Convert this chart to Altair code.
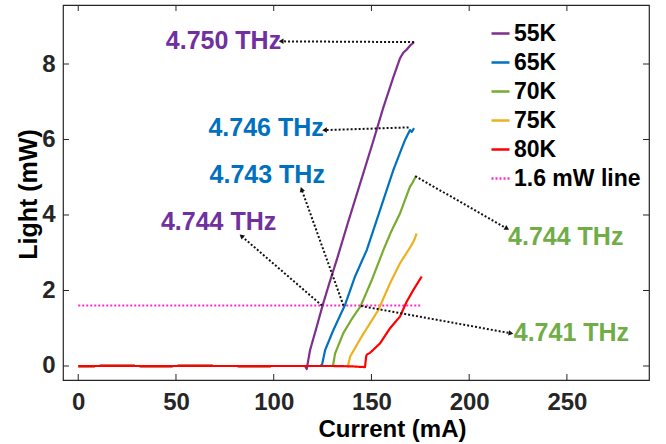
import math
import altair as alt
import pandas as pd

# ---------------- data ----------------
series_names = ["55K", "65K", "70K", "75K", "80K"]
line_colors = ["#7E2F8E", "#0072BD", "#77AC30", "#EDB120", "#FF0000"]
threshold_name = "1.6 mW line"
threshold_color = "#FF2BC8"

flat_I = [0, 10, 20, 30, 40, 50, 60, 70, 80, 90, 100, 110]
flat_L = [-0.005, 0.0, 0.005, 0.0, -0.005, 0.0, 0.005, 0.0, 0.0, -0.005, 0.0, 0.0]

current_55K = flat_I + [116.0, 116.9, 117.5, 118.6, 122.0, 125.1, 128.8, 132.3, 138.0, 142.5,
                        147.0, 151.0, 156.1, 161.2, 164.6, 166.3, 168.0, 170.0, 171.8]
light_55K = flat_L + [0.0, -0.08, 0.1, 0.42, 1.04, 1.62, 2.25, 2.82, 3.8, 4.55,
                      5.3, 5.97, 6.85, 7.65, 8.15, 8.3, 8.38, 8.5, 8.58]

current_65K = flat_I + [120.0, 124.0, 124.8, 126.3, 130.5, 136.5, 141.6, 147.6, 154.4, 161.2,
                        165.0, 167.2, 169.7, 170.6, 171.8]
light_65K = flat_L + [0.0, 0.0, 0.05, 0.42, 0.95, 1.62, 2.37, 3.07, 4.13, 5.19,
                      5.7, 5.99, 6.25, 6.2, 6.30]

current_70K = flat_I + [120.0, 130.3, 131.4, 135.6, 140.0, 144.5, 150.2, 156.1, 160.0, 164.6,
                        169.7, 171.0, 172.8]
light_70K = flat_L + [0.0, 0.0, 0.33, 0.87, 1.25, 1.59, 2.28, 3.07, 3.55, 4.04,
                      4.75, 4.85, 5.03]

current_75K = flat_I + [120.0, 130.0, 138.0, 139.1, 145.0, 153.5, 159.5, 164.6, 168.9, 170.5,
                        172.0, 173.1]
light_75K = flat_L + [0.0, 0.0, 0.0, 0.25, 0.78, 1.48, 2.19, 2.72, 3.07, 3.2,
                      3.35, 3.51]

current_80K = flat_I + [120.0, 130.0, 140.0, 146.7, 147.3, 147.6, 149.3, 154.4, 159.5, 164.6,
                        168.0, 171.4, 175.7]
light_80K = flat_L + [0.0, 0.0, -0.01, -0.03, 0.25, 0.3, 0.35, 0.6, 1.0, 1.31,
                      1.70, 2.01, 2.37]

threshold_I = [0, 175.2]
threshold_L = [1.6, 1.6]

# annotations: label text, colour, label position, arrow start, arrow tip
ann_text = ["4.750 THz", "4.746 THz", "4.743 THz", "4.744 THz", "4.744 THz", "4.741 THz"]
ann_color = ["#7030A0", "#0070C0", "#0070C0", "#7030A0", "#70AD47", "#70AD47"]
ann_I = [74.3, 96.1, 96.7, 71.8, 249.4, 252.3]
ann_L = [8.62, 6.30, 5.06, 3.82, 3.43, 0.87]
arrow_from_I = [171.8, 169.0, 135.7, 124.7, 172.4, 144.6]
arrow_from_L = [8.58, 6.32, 1.60, 1.60, 5.03, 1.59]
arrow_to_I = [104.2, 126.4, 114.4, 83.8, 219.0, 221.0]
arrow_to_L = [8.60, 6.25, 4.66, 3.43, 3.65, 0.87]

x_ticks = [0, 50, 100, 150, 200, 250]
y_ticks = [0, 2, 4, 6, 8]

# ---------------- geometry / style ----------------
W, H = 586, 375
x_dom = [-7.8, 292.0]
y_dom = [-0.371, 9.563]
FONT = "Liberation Sans"

curr = [current_55K, current_65K, current_70K, current_75K, current_80K]
lite = [light_55K, light_65K, light_70K, light_75K, light_80K]
rows = []
for name, ii, ll in zip(series_names, curr, lite):
    for k, (a, b) in enumerate(zip(ii, ll)):
        rows.append({"series": name, "I": a, "L": b, "k": k})
lines_df = pd.DataFrame(rows)
thr_df = pd.DataFrame({"series": threshold_name, "I": threshold_I, "L": threshold_L})

sx = W / (x_dom[1] - x_dom[0])
sy = H / (y_dom[1] - y_dom[0])
angles = []
for a0, b0, a1, b1 in zip(arrow_from_I, arrow_from_L, arrow_to_I, arrow_to_L):
    dxp = (a1 - a0) * sx
    dyp = -(b1 - b0) * sy
    angles.append(math.degrees(math.atan2(dxp, -dyp)) % 360)

ann_df = pd.DataFrame({"text": ann_text, "color": ann_color, "I": ann_I, "L": ann_L})
arrow_df = pd.DataFrame({"I": arrow_from_I, "L": arrow_from_L,
                         "I2": arrow_to_I, "L2": arrow_to_L})
head_df = pd.DataFrame({"I": arrow_to_I, "L": arrow_to_L, "angle": angles})
xt_df = pd.DataFrame({"I": x_ticks})
yt_df = pd.DataFrame({"L": y_ticks})

legend_domain = series_names + [threshold_name]
legend_range = line_colors + [threshold_color]
dash_range = [[1, 0]] * 5 + [[2, 2]]

xs = alt.Scale(domain=x_dom, nice=False, zero=False)
ys = alt.Scale(domain=y_dom, nice=False, zero=False)

x_axis = alt.Axis(values=x_ticks, ticks=False, domain=False, grid=False,
                  labelFont=FONT, labelFontSize=24, labelFontWeight="bold",
                  labelColor="#262626", labelPadding=10, labelFlush=False,
                  title="Current (mA)", titleFont=FONT, titleFontSize=24,
                  titleFontWeight="bold", titleColor="#000000",
                  titleX=329, titleY=56, titleAlign="center", titleBaseline="alphabetic")
y_axis = alt.Axis(values=y_ticks, ticks=False, domain=False, grid=False,
                  labelFont=FONT, labelFontSize=24, labelFontWeight="bold",
                  labelColor="#262626", labelPadding=8, labelFlush=False,
                  title="Light (mW)", titleFont=FONT, titleFontSize=25,
                  titleFontWeight="bold", titleColor="#000000",
                  titleX=-27, titleY=189, titleAngle=270, titleAlign="center",
                  titleBaseline="alphabetic")

X = alt.X("I:Q", scale=xs, axis=x_axis, title="Current (mA)")
Y = alt.Y("L:Q", scale=ys, axis=y_axis, title="Light (mW)")

leg = alt.Legend(orient="none", legendX=426, legendY=17, title=None,
                 symbolType="stroke", symbolSize=324, symbolStrokeWidth=2.5,
                 labelFont=FONT, labelFontSize=23, labelFontWeight="bold",
                 labelColor="#000000", rowPadding=5, padding=0, labelOffset=2)
color_enc = alt.Color("series:N", scale=alt.Scale(domain=legend_domain, range=legend_range),
                      legend=leg)
dash_enc = alt.StrokeDash("series:N", scale=alt.Scale(domain=legend_domain, range=dash_range),
                          legend=leg)

curves = alt.Chart(lines_df).mark_line(strokeWidth=2.2, strokeJoin="round").encode(
    x=X, y=Y, color=color_enc, strokeDash=dash_enc, order="k:Q")

thr = alt.Chart(thr_df).mark_line(strokeWidth=2).encode(
    x=X, y=Y, color=color_enc, strokeDash=dash_enc)

arrows = alt.Chart(arrow_df).mark_rule(color="#111111", strokeWidth=2, strokeDash=[2, 2]).encode(
    x=X, y=Y, x2="I2:Q", y2="L2:Q")

heads = alt.Chart(head_df).mark_point(shape="triangle", size=30, filled=True,
                                      color="#111111", opacity=1).encode(
    x=X, y=Y, angle=alt.Angle("angle:Q", scale=None))

labels = alt.Chart(ann_df).mark_text(font=FONT, fontSize=25, fontWeight="bold",
                                     align="center", baseline="middle").encode(
    x=X, y=Y, text="text:N", color=alt.Color("color:N", scale=None))

tick_style = dict(color="#262626", strokeWidth=1)
xt_bottom = alt.Chart(xt_df).mark_rule(**tick_style).encode(
    x=X, y=alt.value(H), y2=alt.value(H - 6))
xt_top = alt.Chart(xt_df).mark_rule(**tick_style).encode(
    x=X, y=alt.value(0), y2=alt.value(6))
yt_left = alt.Chart(yt_df).mark_rule(**tick_style).encode(
    y=Y, x=alt.value(0), x2=alt.value(6))
yt_right = alt.Chart(yt_df).mark_rule(**tick_style).encode(
    y=Y, x=alt.value(W), x2=alt.value(W - 6))

chart = alt.layer(thr, curves, arrows, heads, labels,
                  xt_bottom, xt_top, yt_left, yt_right).properties(
    width=W, height=H,
    autosize=alt.AutoSizeParams(type="none"),
    padding={"left": 63, "top": 5, "right": 17, "bottom": 64},
    background="#ffffff",
).configure_view(stroke="#262626", strokeWidth=1.2)

chart.save("out.html", embed_options={"renderer": "svg", "actions": False})
